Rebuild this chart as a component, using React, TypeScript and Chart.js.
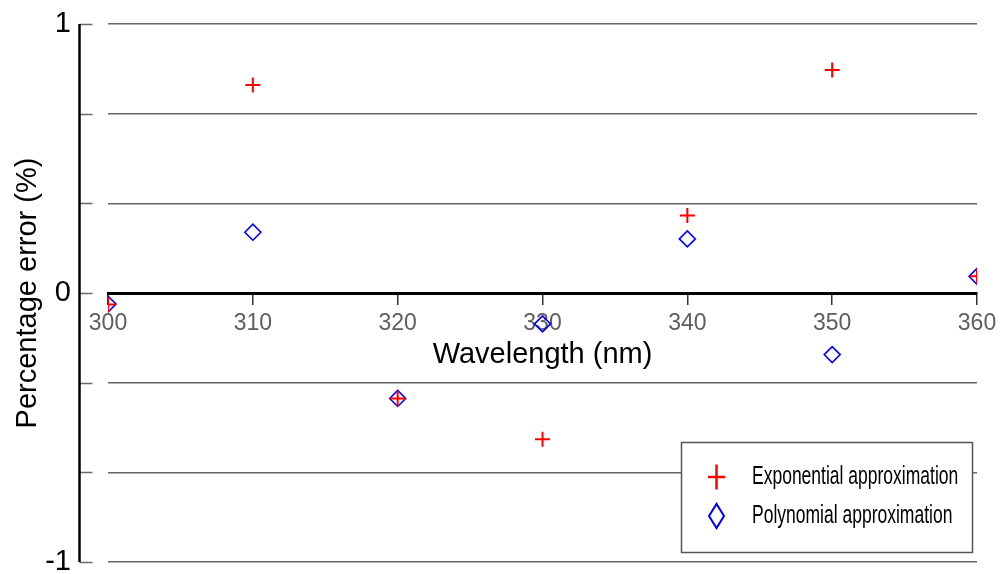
import React, { useEffect, useRef } from "react";
import { Chart, registerables } from "chart.js";

Chart.register(...registerables);

const wavelengths = [300, 310, 320, 330, 340, 350, 360];
const exponentialError = [-0.043, 0.773, -0.392, -0.544, 0.288, 0.829, 0.062];
const polynomialError = [-0.041, 0.226, -0.392, -0.115, 0.201, -0.229, 0.062];
const yGridValues = [-1, -2 / 3, -1 / 3, 0, 1 / 3, 2 / 3, 1];
const yLabeledValues = [-1, 0, 1];
const xTickValues = [300, 310, 320, 330, 340, 350, 360];
const seriesLabels = ["Exponential approximation", "Polynomial approximation"];

const FONT = '"Liberation Sans", Arial, sans-serif';

const axisPlugin = {
  id: "leftAxisLine",
  afterDraw(chart: any) {
    const { ctx, chartArea, scales } = chart;
    const y = scales.y;
    const axisX = chartArea.left - 28.5;
    ctx.save();
    ctx.strokeStyle = "#6a6a6a";
    ctx.lineWidth = 1.5;
    y.ticks.forEach((t: any) => {
      const py = Math.round(y.getPixelForValue(t.value)) + 0.5;
      ctx.beginPath();
      ctx.moveTo(axisX, py);
      ctx.lineTo(axisX + 13, py);
      ctx.stroke();
    });
    ctx.strokeStyle = "#000";
    ctx.lineWidth = 2.5;
    ctx.beginPath();
    ctx.moveTo(axisX, y.getPixelForValue(1));
    ctx.lineTo(axisX, y.getPixelForValue(-1));
    ctx.stroke();
    ctx.restore();
  },
};

const legendPlugin = {
  id: "boxLegend",
  afterDraw(chart: any) {
    const { ctx, chartArea } = chart;
    const w = 291;
    const h = 110;
    const x0 = chartArea.right - 5 - w;
    const y0 = chartArea.bottom - 10 - h;
    ctx.save();
    ctx.fillStyle = "#fff";
    ctx.fillRect(x0, y0, w, h);
    ctx.strokeStyle = "#555";
    ctx.lineWidth = 1.5;
    ctx.strokeRect(Math.round(x0) + 0.5, Math.round(y0) + 0.5, w, h);

    const ds = chart.data.datasets;
    const rows = [y0 + 35, y0 + 74];
    const mx = x0 + 35.5;
    ctx.strokeStyle = ds[0].borderColor;
    ctx.lineWidth = 2.5;
    ctx.beginPath();
    ctx.moveTo(mx - 8.5, rows[0]);
    ctx.lineTo(mx + 8.5, rows[0]);
    ctx.moveTo(mx, rows[0] - 12.5);
    ctx.lineTo(mx, rows[0] + 12.5);
    ctx.stroke();
    ctx.strokeStyle = ds[1].borderColor;
    ctx.lineWidth = 2;
    ctx.beginPath();
    ctx.moveTo(mx - 7.5, rows[1]);
    ctx.lineTo(mx, rows[1] - 12);
    ctx.lineTo(mx + 7.5, rows[1]);
    ctx.lineTo(mx, rows[1] + 12);
    ctx.closePath();
    ctx.stroke();

    ctx.fillStyle = "#000";
    ctx.font = "25px " + FONT;
    ctx.textBaseline = "middle";
    ctx.textAlign = "left";
    ds.forEach((d: any, i: number) => {
      ctx.save();
      ctx.translate(x0 + 71, rows[i]);
      ctx.scale(0.7, 1);
      ctx.fillText(d.label, 0, 0);
      ctx.restore();
    });
    ctx.restore();
  },
};

export default function App() {
  const ref = useRef<HTMLCanvasElement | null>(null);

  useEffect(() => {
    document.body.style.margin = "0";
    if (!ref.current) return;
    const chart = new Chart(ref.current, {
      type: "scatter",
      data: {
        datasets: [
          {
            label: seriesLabels[0],
            data: wavelengths.map((x, i) => ({ x, y: exponentialError[i] })),
            pointStyle: "cross",
            pointRadius: 7.5,
            borderColor: "#ff0000",
            backgroundColor: "#ff0000",
            pointBorderWidth: 2,
            showLine: false,
          },
          {
            label: seriesLabels[1],
            data: wavelengths.map((x, i) => ({ x, y: polynomialError[i] })),
            pointStyle: "rectRot",
            pointRadius: 8,
            borderColor: "#0000ff",
            backgroundColor: "rgba(0,0,0,0)",
            pointBorderWidth: 1.6,
            showLine: false,
          },
        ],
      },
      options: {
        responsive: false,
        animation: false,
        events: [],
        layout: { padding: { left: 0, right: 23, top: 24, bottom: 12 } },
        plugins: {
          legend: { display: false },
          tooltip: { enabled: false },
        },
        scales: {
          x: {
            type: "linear",
            min: 300,
            max: 360,
            position: { y: 0 } as any,
            afterBuildTicks: (s: any) => {
              s.ticks = xTickValues.map((v) => ({ value: v }));
            },
            afterFit: (s: any) => {
              s.paddingLeft = 0;
              s.paddingRight = 0;
            },
            grid: {
              drawOnChartArea: false,
              drawTicks: true,
              tickLength: 10,
              color: "#333",
              lineWidth: 1.5,
            },
            border: { display: true, color: "#000", width: 3 },
            ticks: {
              color: "#5e5e5e",
              font: { family: FONT, size: 23 },
              padding: 7,
              maxRotation: 0,
              autoSkip: false,
            },
            title: {
              display: true,
              text: "Wavelength (nm)",
              color: "#000",
              font: { family: FONT, size: 29 },
              padding: { top: -7, bottom: 0 },
            },
          },
          y: {
            type: "linear",
            min: -1,
            max: 1,
            afterBuildTicks: (s: any) => {
              s.ticks = yGridValues.map((v) => ({ value: v }));
            },
            afterFit: (s: any) => {
              s.width = 108;
              s.paddingTop = 0;
              s.paddingBottom = 0;
            },
            grid: {
              drawTicks: false,
              color: (c: any) =>
                Math.abs(c.tick?.value ?? 1) < 1e-9 ? "rgba(0,0,0,0)" : "#666",
              lineWidth: 1.5,
            },
            border: { display: false },
            ticks: {
              color: "#000",
              font: { family: FONT, size: 29 },
              padding: 37,
              autoSkip: false,
              callback: (v: any) => {
                const m = yLabeledValues.find((l) => Math.abs(l - Number(v)) < 1e-9);
                return m === undefined ? "" : String(m);
              },
            },
            title: {
              display: true,
              text: "Percentage error (%)",
              color: "#000",
              font: { family: FONT, size: 29 },
              padding: { top: 10.5, bottom: 0 },
            },
          },
        },
      },
      plugins: [axisPlugin, legendPlugin],
    });
    return () => chart.destroy();
  }, []);

  return (
    <div style={{ width: 1000, height: 574 }}>
      <canvas ref={ref} width={1000} height={574} style={{ display: "block" }} />
    </div>
  );
}
